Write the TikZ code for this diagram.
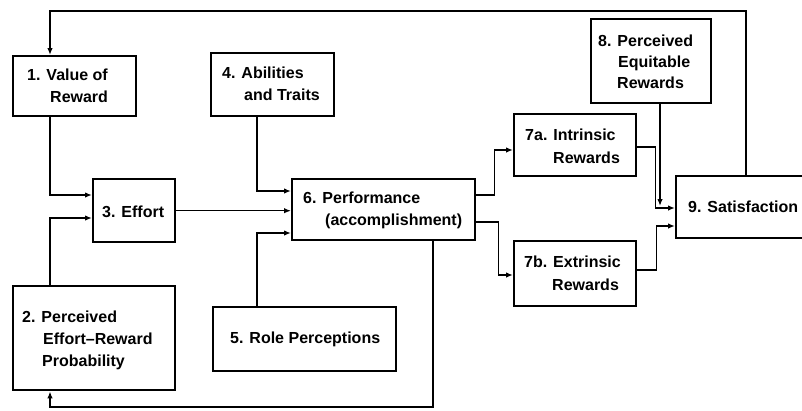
\documentclass[tikz,border=0pt]{standalone}
\usepackage{fontspec}
\setmainfont{Liberation Sans}
\usetikzlibrary{arrows.meta}
\begin{document}
\begin{tikzpicture}[x=1pt,y=-1pt,
 box/.style={draw, line width=2.4pt, inner sep=0pt, anchor=north west},
 txt/.style={anchor=base west, inner sep=0pt, font=\bfseries\fontsize{16}{20}\selectfont},
 con/.style={line width=1.5pt},
 arr/.style={con, -{Latex[length=7pt,width=5.5pt]}}]
\clip (0,0) rectangle (802,410);
% boxes
\node[box, minimum width=123pt, minimum height=60pt] (n1) at (12,55) {};
\node[box, minimum width=123pt, minimum height=63pt] (n4) at (210,52) {};
\node[box, minimum width=82pt, minimum height=63pt] (n3) at (92,178) {};
\node[box, minimum width=162pt, minimum height=104pt] (n2) at (12,285) {};
\node[box, minimum width=183pt, minimum height=64pt] (n5) at (212,306) {};
\node[box, minimum width=183pt, minimum height=61pt] (n6) at (291,178) {};
\node[box, minimum width=122pt, minimum height=62pt] (n7a) at (513,113) {};
\node[box, minimum width=122pt, minimum height=65pt] (n7b) at (513,240) {};
\node[box, minimum width=120pt, minimum height=84pt] (n8) at (590,18) {};
\node[box, minimum width=140pt, minimum height=62pt] (n9) at (675,175) {};
% texts
\node[txt] (t1a) at (27,80) {1. Value of};
\node[txt] (t1b) at (50,102) {Reward};
\node[txt] (t4a) at (222,78) {4. Abilities};
\node[txt] (t4b) at (244,100) {and Traits};
\node[txt] (t3) at (102,217) {3. Effort};
\node[txt] (t2a) at (22,322) {2. Perceived};
\node[txt] (t2b) at (43,344) {Effort--Reward};
\node[txt] (t2c) at (42,366) {Probability};
\node[txt] (t5) at (230,343) {5. Role Perceptions};
\node[txt] (t6a) at (303,203) {6. Performance};
\node[txt] (t6b) at (325,225) {(accomplishment)};
\node[txt] (t7aa) at (525,140) {7a. Intrinsic};
\node[txt] (t7ab) at (553,163) {Rewards};
\node[txt] (t7ba) at (524,267) {7b. Extrinsic};
\node[txt] (t7bb) at (552,290) {Rewards};
\node[txt] (t8a) at (598,46) {8. Perceived};
\node[txt] (t8b) at (618,67) {Equitable};
\node[txt] (t8c) at (617,88) {Rewards};
\node[txt] (t9) at (688,212) {9. Satisfaction};
% connectors
\coordinate (topL) at (50,11);
\coordinate (botL) at (50,407);
\coordinate (j8) at (660,206);
\draw[arr] (n9.north) |- (topL) -- (topL |- n1.north);
\draw[arr] (topL |- n1.south) |- (n3.west |- 0,195);
\draw[arr] (topL |- n2.north) |- (n3.west |- 0,218);
\draw[arr] (n3.east) -- (n3.east -| n6.west);
\draw[arr] (n4.south -| 257,0) |- (n6.west |- 0,191);
\draw[arr] (n5.north -| 257,0) |- (n6.west |- 0,233);
\draw[arr] (n6.east |- 0,195) -- ++(18,0) |- (n7a.west |- 0,150);
\draw[arr] (n6.east |- 0,222) -- ++(22,0) |- (n7b.west |- 0,275);
\draw[arr] (n7a.east |- 0,147) -- ++(18,0) |- (n9.west |- 0,208);
\draw[arr] (n7b.east |- 0,270) -- ++(19,0) |- (n9.west |- 0,226);
\draw[arr] (n8.south -| j8) -- (j8);
\draw[arr] (n6.south -| 433,0) |- (botL) -- (botL |- n2.south);
\end{tikzpicture}
\end{document}
